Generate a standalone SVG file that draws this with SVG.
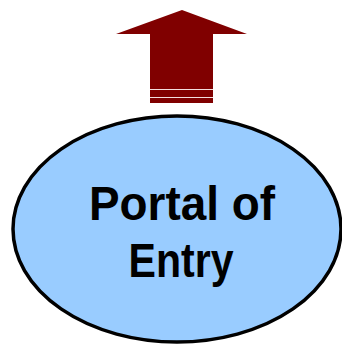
<svg xmlns="http://www.w3.org/2000/svg" width="342" height="344" viewBox="0 0 342 344">
<style>
.lbl{font-family:"Liberation Sans",Arial,sans-serif;font-weight:bold;font-size:48px;fill:#000;text-anchor:middle}
</style>
<rect width="342" height="344" fill="#fff"/>
<g id="arrow">
<polygon points="182,10 247,34 213,34 213,103 150,103 150,34 116,34" fill="#800000"/>
<line x1="150" y1="89.5" x2="213" y2="89.5" stroke="#f4dede" stroke-width="1.2"/>
<line x1="150" y1="97.5" x2="213" y2="97.5" stroke="#f4dede" stroke-width="1.2"/>
</g>
<g id="portal">
<ellipse cx="177" cy="229" rx="164" ry="113" fill="#99ccff" stroke="#000" stroke-width="3.5"/>
<text class="lbl" x="182" y="220" textLength="186" lengthAdjust="spacingAndGlyphs">Portal of</text>
<text class="lbl" x="181" y="277" textLength="105" lengthAdjust="spacingAndGlyphs">Entry</text>
</g>
</svg>
